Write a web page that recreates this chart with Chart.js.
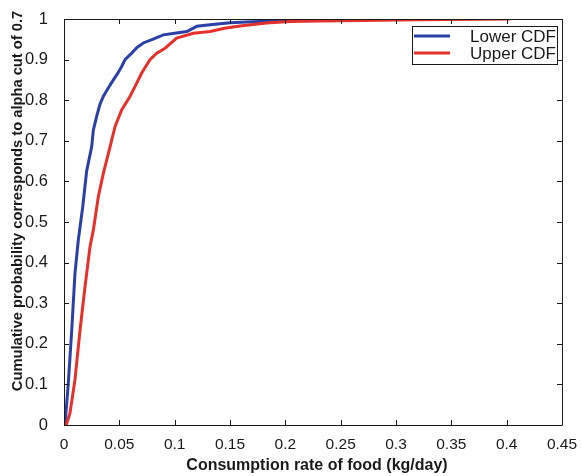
<!DOCTYPE html>
<html>
<head>
<meta charset="utf-8">
<script src="https://cdn.jsdelivr.net/npm/chart.js@4.4.1/dist/chart.umd.min.js"></script>
<style>
  html, body { margin: 0; padding: 0; background: #fff; }
  #wrap { width: 582px; height: 476px; }
</style>
</head>
<body>
<div id="wrap"><canvas id="cdfChart"></canvas></div>
<script>
// ── Data ──
const seriesLabels = ['Lower CDF', 'Upper CDF'];
const lowerX = [0, 0.001, 0.0039, 0.007, 0.0099, 0.0129, 0.0169, 0.0205, 0.025, 0.0265, 0.0295, 0.0325, 0.0355, 0.040, 0.0446, 0.0485, 0.0521, 0.0551, 0.0612, 0.066, 0.0717, 0.080, 0.0898, 0.100, 0.111, 0.120, 0.132, 0.150, 0.186, 0.213, 0.23];
const lowerY = [0, 0.004, 0.103, 0.234, 0.373, 0.455, 0.537, 0.626, 0.685, 0.726, 0.760, 0.790, 0.809, 0.830, 0.850, 0.866, 0.883, 0.900, 0.916, 0.930, 0.941, 0.950, 0.961, 0.965, 0.969, 0.982, 0.986, 0.991, 0.995, 0.997, 1.0];
const upperX = [0.002, 0.0054, 0.0099, 0.0145, 0.019, 0.0235, 0.0265, 0.031, 0.0355, 0.0416, 0.0461, 0.0521, 0.0596, 0.0657, 0.0702, 0.0777, 0.0838, 0.0913, 0.1018, 0.1168, 0.132, 0.145, 0.159, 0.183, 0.204, 0.231, 0.27, 0.32, 0.403];
const upperY = [0, 0.029, 0.111, 0.234, 0.341, 0.439, 0.480, 0.562, 0.619, 0.685, 0.735, 0.776, 0.809, 0.842, 0.867, 0.900, 0.916, 0.928, 0.953, 0.965, 0.969, 0.977, 0.983, 0.990, 0.994, 0.995, 0.996, 0.998, 1.0];
const xTicks = [0, 0.05, 0.1, 0.15, 0.2, 0.25, 0.3, 0.35, 0.4, 0.45];
const yTicks = [0, 0.1, 0.2, 0.3, 0.4, 0.5, 0.6, 0.7, 0.8, 0.9, 1];
const xTitle = 'Consumption rate of food (kg/day)';
const yTitle = 'Cumulative probability corresponds to alpha cut of 0.7';

const toPoints = (xs, ys) => xs.map((x, i) => ({ x, y: ys[i] }));
const AXIS = '#1a1a1a';
const FONT = '"Liberation Sans", Arial, Helvetica, sans-serif';

// ── Box + inward ticks on all sides (MATLAB look) ──
const boxTicks = {
  id: 'boxTicks',
  afterDraw(chart) {
    const { ctx, chartArea: a, scales } = chart;
    const len = 5;
    ctx.save();
    ctx.strokeStyle = AXIS;
    ctx.lineWidth = 1;
    ctx.beginPath();
    ctx.rect(a.left + 0.5, a.top + 0.5, a.right - a.left, a.bottom - a.top);
    xTicks.forEach(v => {
      const px = Math.round(scales.x.getPixelForValue(v)) + 0.5;
      ctx.moveTo(px, a.bottom); ctx.lineTo(px, a.bottom - len);
      ctx.moveTo(px, a.top); ctx.lineTo(px, a.top + len);
    });
    yTicks.forEach(v => {
      const py = Math.round(scales.y.getPixelForValue(v)) + 0.5;
      ctx.moveTo(a.left, py); ctx.lineTo(a.left + len, py);
      ctx.moveTo(a.right, py); ctx.lineTo(a.right - len, py);
    });
    ctx.stroke();
    ctx.restore();
  }
};

// ── Axis titles, placed like the MATLAB figure ──
const axisTitles = {
  id: 'axisTitles',
  afterDraw(chart) {
    const { ctx, chartArea: a } = chart;
    ctx.save();
    ctx.fillStyle = AXIS;
    ctx.textAlign = 'center';
    ctx.textBaseline = 'middle';
    ctx.font = 'bold 16px ' + FONT;
    ctx.fillText(xTitle, (a.left + a.right) / 2 + 4, chart.height - 10);
    ctx.translate(18, a.top + (a.bottom - a.top) / 2 - 21);
    ctx.rotate(-Math.PI / 2);
    ctx.font = 'bold 14.7px ' + FONT;
    ctx.fillText(yTitle, 0, 0);
    ctx.restore();
  }
};

// ── Legend box in the top-right corner ──
const cornerLegend = {
  id: 'cornerLegend',
  afterDraw(chart) {
    const { ctx, chartArea: a } = chart;
    const w = 145, h = 38, rowH = 17;
    const x0 = a.right - 5 - w, y0 = a.top + 7;
    ctx.save();
    ctx.fillStyle = '#fff';
    ctx.fillRect(x0, y0, w, h);
    ctx.strokeStyle = AXIS;
    ctx.lineWidth = 1;
    ctx.strokeRect(x0 + 0.5, y0 + 0.5, w, h);
    ctx.font = '17px ' + FONT;
    ctx.textAlign = 'right';
    ctx.textBaseline = 'middle';
    chart.data.datasets.forEach((ds, i) => {
      const cy = y0 + 10 + i * rowH;
      ctx.strokeStyle = ds.borderColor;
      ctx.lineWidth = 3;
      ctx.beginPath();
      ctx.moveTo(x0 + 2, cy); ctx.lineTo(x0 + 38, cy);
      ctx.stroke();
      ctx.fillStyle = AXIS;
      ctx.fillText(ds.label, x0 + w - 1, cy + 1);
    });
    ctx.restore();
  }
};

function initChart() {
  const ctx = document.getElementById('cdfChart').getContext('2d');
  new Chart(ctx, {
    type: 'scatter',
    data: {
      datasets: [
        {
          label: seriesLabels[0],
          data: toPoints(lowerX, lowerY),
          borderColor: '#2b40a6',
          borderWidth: 3,
          showLine: true,
          pointRadius: 0,
          tension: 0,
          order: 1
        },
        {
          label: seriesLabels[1],
          data: toPoints(upperX, upperY),
          borderColor: '#e5312b',
          borderWidth: 3,
          showLine: true,
          pointRadius: 0,
          tension: 0,
          order: 0
        }
      ]
    },
    options: {
      responsive: true,
      maintainAspectRatio: false,
      animation: false,
      layout: { padding: { top: 19, right: 20, left: 0, bottom: 0 } },
      plugins: {
        legend: { display: false },
        tooltip: { enabled: false }
      },
      scales: {
        x: {
          type: 'linear',
          min: 0,
          max: 0.45,
          afterBuildTicks: s => { s.ticks = xTicks.map(v => ({ value: v })); },
          afterFit: s => { s.height = 51; },
          grid: { display: false },
          border: { display: false },
          ticks: {
            color: AXIS,
            font: { family: FONT, size: 15.5 },
            padding: 2,
            maxRotation: 0,
            callback: v => String(v)
          }
        },
        y: {
          type: 'linear',
          min: 0,
          max: 1,
          afterBuildTicks: s => { s.ticks = yTicks.map(v => ({ value: v })); },
          afterFit: s => { s.width = 64; },
          grid: { display: false },
          border: { display: false },
          ticks: {
            color: AXIS,
            font: { family: FONT, size: 16.5 },
            padding: 8,
            callback: v => String(v)
          }
        }
      }
    },
    plugins: [boxTicks, axisTitles, cornerLegend]
  });
}

document.addEventListener('DOMContentLoaded', initChart);
</script>
</body>
</html>
